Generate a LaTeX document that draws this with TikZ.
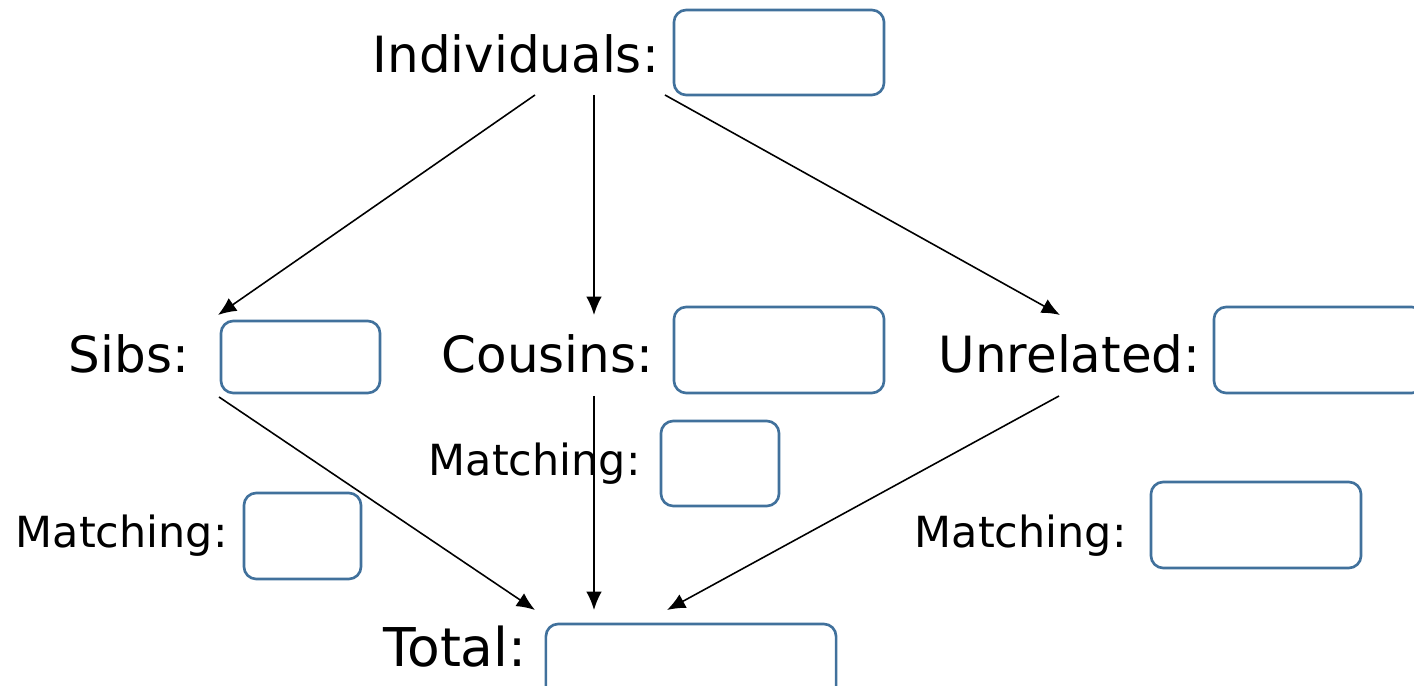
\documentclass[tikz,border=0pt]{standalone}
\usepackage{fontspec}
\setmainfont{DejaVu Sans}
\usetikzlibrary{arrows.meta}
\definecolor{boxblue}{RGB}{65,113,156}

\begin{document}
\begin{tikzpicture}[x=0.01cm, y=-0.01cm,
		valbox/.style={draw=boxblue, line width=0.75pt, rounded corners=3.5pt, inner sep=0pt},
		biglbl/.style={anchor=base west, inner sep=0pt, font=\fontsize{14.2}{16}\selectfont},
		totlbl/.style={anchor=base west, inner sep=0pt, font=\fontsize{15.2}{17}\selectfont},
		matchlbl/.style={anchor=base west, inner sep=0pt, font=\fontsize{12.2}{14}\selectfont},
		flow/.style={-{Latex[length=5.2pt, width=4.4pt]}, line width=0.45pt}]
		%%%%% START %%%%%
		
		\useasboundingbox (0, 0) rectangle (1414, 686);
		
		% labels
		\node[biglbl] (ind) at (372, 73) {Individuals:};
		\node[biglbl] (sibs) at (68, 373) {Sibs:};
		\node[biglbl] (cous) at (441, 373) {Cousins:};
		\node[biglbl] (unrel) at (938, 373) {Unrelated:};
		\node[matchlbl] (msibs) at (15, 548) {Matching:};
		\node[matchlbl] (mcous) at (428, 476) {Matching:};
		\node[matchlbl] (munrel) at (914, 548) {Matching:};
		\node[totlbl] (tot) at (383, 667) {Total:};
		
		% value boxes
		\node[valbox, minimum width=2.10cm, minimum height=0.85cm] (indbox) at (779, 52.5) {};
		\node[valbox, minimum width=1.59cm, minimum height=0.72cm] (sibsbox) at (300.5, 357) {};
		\node[valbox, minimum width=2.10cm, minimum height=0.86cm] (cousbox) at (779, 350) {};
		\node[valbox, minimum width=2.10cm, minimum height=0.86cm] (unrelbox) at (1319, 350) {};
		\node[valbox, minimum width=1.17cm, minimum height=0.86cm] (msibsbox) at (302.5, 536) {};
		\node[valbox, minimum width=1.18cm, minimum height=0.85cm] (mcousbox) at (720, 463.5) {};
		\node[valbox, minimum width=2.10cm, minimum height=0.86cm] (munrelbox) at (1256, 525) {};
		\node[valbox, minimum width=2.90cm, minimum height=0.86cm] (totbox) at (691, 667) {};
		
		% arrow ends
		\coordinate (indL) at (535, 95);
		\coordinate (indM) at (594, 95);
		\coordinate (indR) at (665, 95);
		\coordinate (sibsT) at (218, 315);
		\coordinate (cousT) at (594, 315);
		\coordinate (unrelT) at (1060, 315);
		\coordinate (sibsB) at (219, 397);
		\coordinate (cousB) at (594, 396);
		\coordinate (unrelB) at (1059, 396);
		\coordinate (totL) at (535, 610);
		\coordinate (totM) at (594, 610);
		\coordinate (totR) at (667, 610);
		
		\draw[flow] (indL) -- (sibsT);
		\draw[flow] (indM) -- (cousT);
		\draw[flow] (indR) -- (unrelT);
		
		\draw[flow] (sibsB) -- (totL);
		\draw[flow] (cousB) -- (totM);
		\draw[flow] (unrelB) -- (totR);
		
		%%%%% END %%%%%
	\end{tikzpicture}
\end{document}
